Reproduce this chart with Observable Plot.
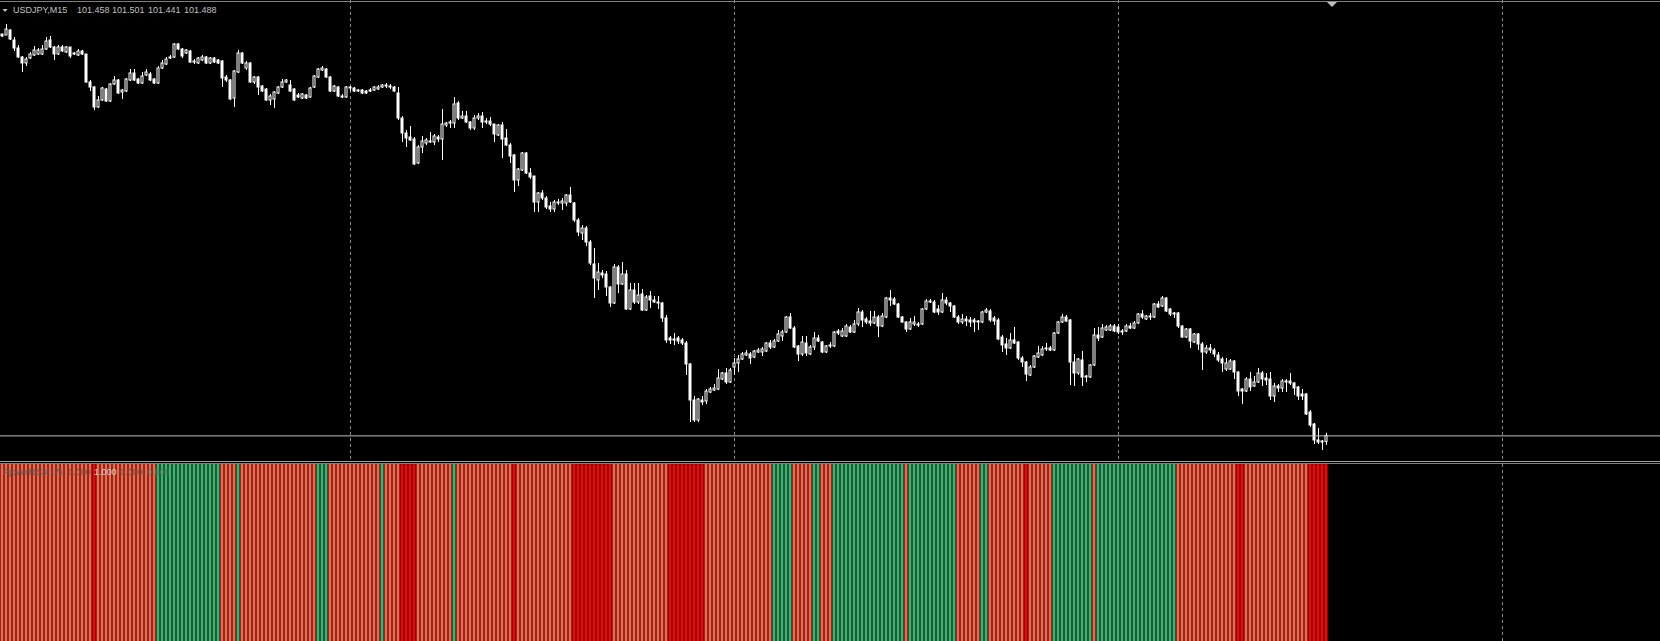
<!DOCTYPE html>
<html><head><meta charset="utf-8">
<script src="https://cdn.jsdelivr.net/npm/d3@7"></script>
<script src="https://cdn.jsdelivr.net/npm/@observablehq/plot@0.6"></script>
<style>
html,body{margin:0;padding:0;background:#000;}
#chart{position:relative;width:1660px;height:641px;background:#000;overflow:hidden;}
#chart svg{position:absolute;left:0;display:block;max-width:none;}
</style></head><body><div id="chart"></div>
<script>
// ---- data (USDJPY M15, one entry per bar, oldest first) ----
const symbol = "USDJPY,M15";
const headerValues = ["101.458", "101.501", "101.441", "101.488"];
const open = [
103.495,103.490,103.515,103.465,103.425,103.380,103.350,103.375,103.390,103.395,
103.395,103.420,103.465,103.430,103.395,103.430,103.405,103.430,103.395,103.390,
103.410,103.395,103.255,103.230,103.130,103.165,103.220,103.160,103.245,103.265,
103.205,103.210,103.265,103.300,103.270,103.250,103.290,103.295,103.270,103.250,
103.325,103.345,103.375,103.380,103.445,103.420,103.400,103.410,103.360,103.350,
103.365,103.380,103.350,103.375,103.365,103.360,103.280,103.265,103.175,103.305,
103.400,103.325,103.350,103.255,103.280,103.235,103.220,103.165,103.170,103.200,
103.230,103.255,103.240,103.220,103.190,103.175,103.190,103.180,103.230,103.280,
103.315,103.320,103.280,103.210,103.230,103.185,103.180,103.230,103.225,103.215,
103.215,103.210,103.210,103.215,103.220,103.230,103.240,103.235,103.230,103.200,
103.075,103.000,102.980,102.970,102.850,102.930,102.950,102.955,102.955,102.980,
102.970,103.040,103.050,103.050,103.150,103.075,103.085,103.055,103.025,103.075,
103.085,103.055,103.060,103.045,102.990,103.040,102.975,102.940,102.890,102.765,
102.815,102.900,102.800,102.785,102.655,102.700,102.675,102.635,102.620,102.655,
102.650,102.650,102.690,102.650,102.565,102.500,102.525,102.455,102.345,102.265,
102.300,102.295,102.230,102.150,102.330,102.245,102.295,102.120,102.215,102.155,
102.195,102.115,102.185,102.165,102.155,102.150,102.075,101.975,101.970,101.975,
101.965,101.950,101.845,101.665,101.565,101.665,101.660,101.705,101.715,101.720,
101.770,101.800,101.755,101.830,101.850,101.870,101.890,101.895,101.880,101.905,
101.905,101.910,101.950,101.930,101.960,101.985,102.005,102.080,102.025,101.935,
101.895,101.950,101.895,101.930,101.975,101.955,101.905,101.940,101.935,102.010,
101.985,101.985,102.030,102.005,102.045,102.105,102.070,102.060,102.050,102.080,
102.035,102.080,102.175,102.170,102.145,102.080,102.055,102.020,102.045,102.045,
102.045,102.120,102.160,102.155,102.120,102.105,102.165,102.150,102.135,102.080,
102.055,102.070,102.065,102.065,102.060,102.055,102.105,102.110,102.075,102.065,
101.980,101.945,101.925,101.965,101.955,101.875,101.855,101.790,101.830,101.880,
101.890,101.920,101.925,101.915,102.000,102.055,102.080,102.065,101.855,101.800,
101.865,101.785,101.780,101.840,101.990,101.980,102.015,102.015,102.035,102.030,
102.010,102.010,102.035,102.025,102.050,102.095,102.070,102.080,102.080,102.145,
102.135,102.175,102.120,102.100,102.100,102.035,101.980,102.020,101.955,101.995,
101.945,101.905,101.925,101.915,101.890,101.870,101.820,101.820,101.860,101.805,
101.720,101.710,101.770,101.735,101.755,101.800,101.775,101.770,101.685,101.735,
101.725,101.755,101.760,101.750,101.730,101.695,101.695,101.605,101.545,101.465,
101.460,101.458];
const high = [
103.495,103.545,103.520,103.480,103.440,103.385,103.380,103.405,103.435,103.425,
103.440,103.480,103.485,103.435,103.440,103.440,103.435,103.430,103.405,103.420,
103.415,103.395,103.265,103.235,103.185,103.230,103.225,103.250,103.285,103.270,
103.220,103.275,103.320,103.320,103.275,103.305,103.320,103.305,103.275,103.335,
103.365,103.380,103.390,103.450,103.450,103.425,103.420,103.415,103.370,103.380,
103.390,103.385,103.380,103.380,103.370,103.365,103.290,103.270,103.315,103.415,
103.405,103.360,103.355,103.285,103.285,103.240,103.225,103.195,103.210,103.235,
103.270,103.270,103.265,103.225,103.200,103.200,103.195,103.230,103.290,103.325,
103.335,103.325,103.285,103.240,103.235,103.195,103.235,103.235,103.230,103.220,
103.220,103.215,103.225,103.235,103.240,103.245,103.250,103.245,103.235,103.230,
103.085,103.015,103.035,102.980,102.940,102.985,102.975,103.005,102.995,102.990,
103.120,103.055,103.065,103.180,103.160,103.110,103.110,103.060,103.090,103.100,
103.105,103.075,103.080,103.045,103.045,103.055,103.020,102.950,102.895,102.825,
102.905,102.905,102.825,102.785,102.705,102.715,102.685,102.655,102.665,102.670,
102.675,102.695,102.730,102.655,102.575,102.540,102.535,102.465,102.425,102.350,
102.315,102.310,102.235,102.345,102.340,102.355,102.315,102.250,102.250,102.250,
102.220,102.190,102.210,102.185,102.185,102.155,102.090,101.985,102.000,101.985,
101.975,101.960,101.850,101.685,101.675,101.685,101.720,101.730,101.745,101.820,
101.805,101.825,101.825,101.875,101.890,101.905,101.915,101.905,101.915,101.925,
101.930,101.955,101.965,101.970,102.015,102.015,102.085,102.100,102.035,101.940,
101.985,101.985,101.940,102.005,101.990,101.960,101.940,101.955,102.010,102.020,
102.025,102.045,102.040,102.065,102.125,102.115,102.080,102.110,102.110,102.090,
102.100,102.180,102.215,102.180,102.150,102.085,102.060,102.075,102.085,102.055,
102.125,102.170,102.170,102.165,102.140,102.200,102.180,102.155,102.140,102.090,
102.095,102.085,102.080,102.075,102.065,102.110,102.125,102.120,102.085,102.075,
101.990,101.975,102.000,102.030,101.960,101.885,101.860,101.840,101.890,101.935,
101.935,101.950,101.935,102.005,102.060,102.095,102.090,102.070,101.895,101.875,
101.910,101.790,101.845,102.025,102.030,102.045,102.040,102.045,102.045,102.045,
102.020,102.045,102.050,102.060,102.100,102.115,102.090,102.100,102.150,102.160,
102.185,102.180,102.125,102.105,102.105,102.040,102.025,102.025,102.000,102.000,
101.955,101.940,101.945,101.925,101.905,101.880,101.875,101.870,101.865,101.810,
101.725,101.780,101.805,101.785,101.825,101.810,101.800,101.805,101.750,101.745,
101.770,101.770,101.800,101.755,101.735,101.720,101.700,101.615,101.550,101.525,
101.465,101.501];
const low = [
103.480,103.490,103.465,103.410,103.375,103.305,103.335,103.370,103.385,103.390,
103.390,103.415,103.425,103.365,103.390,103.405,103.400,103.375,103.390,103.385,
103.390,103.250,103.210,103.115,103.125,103.160,103.155,103.155,103.240,103.195,
103.170,103.205,103.260,103.260,103.245,103.245,103.285,103.260,103.245,103.245,
103.320,103.340,103.370,103.375,103.415,103.375,103.395,103.350,103.345,103.345,
103.360,103.345,103.345,103.350,103.345,103.230,103.255,103.165,103.130,103.300,
103.345,103.315,103.250,103.245,103.190,103.205,103.160,103.140,103.125,103.195,
103.225,103.250,103.205,103.160,103.175,103.170,103.170,103.175,103.225,103.275,
103.310,103.275,103.205,103.205,103.180,103.175,103.175,103.210,103.205,103.205,
103.195,103.195,103.205,103.210,103.215,103.225,103.225,103.220,103.205,103.065,
102.955,102.930,102.960,102.840,102.845,102.900,102.940,102.950,102.940,102.955,
102.865,103.030,103.025,103.025,103.065,103.070,103.050,103.015,103.015,103.065,
103.025,103.045,103.035,102.955,102.985,102.875,102.935,102.850,102.705,102.735,
102.810,102.795,102.770,102.605,102.605,102.665,102.620,102.605,102.605,102.640,
102.615,102.635,102.650,102.555,102.485,102.465,102.435,102.340,102.175,102.215,
102.275,102.185,102.130,102.145,102.200,102.240,102.115,102.115,102.145,102.145,
102.110,102.110,102.125,102.150,102.120,102.055,101.950,101.945,101.940,101.945,
101.940,101.790,101.555,101.555,101.555,101.640,101.645,101.700,101.710,101.715,
101.765,101.745,101.750,101.790,101.805,101.865,101.885,101.845,101.875,101.900,
101.885,101.905,101.920,101.925,101.955,101.960,102.000,102.020,101.925,101.860,
101.885,101.885,101.890,101.915,101.955,101.900,101.900,101.925,101.930,101.990,
101.980,101.980,102.000,102.000,102.035,102.030,102.045,102.035,102.045,101.980,
102.030,102.075,102.135,102.140,102.075,102.050,102.005,102.015,102.035,102.030,
102.040,102.115,102.150,102.100,102.090,102.100,102.140,102.105,102.075,102.045,
102.045,102.035,102.030,102.005,102.015,102.050,102.100,102.055,102.040,101.965,
101.905,101.890,101.920,101.945,101.865,101.830,101.760,101.785,101.825,101.875,
101.885,101.910,101.910,101.910,101.995,102.050,102.055,101.740,101.735,101.790,
101.735,101.755,101.775,101.835,101.960,101.975,102.010,102.010,102.005,101.995,
101.990,102.005,102.020,102.020,102.045,102.070,102.065,102.065,102.075,102.125,
102.130,102.105,102.085,102.075,102.025,101.975,101.975,101.925,101.950,101.915,
101.815,101.895,101.900,101.880,101.855,101.805,101.810,101.815,101.770,101.685,
101.645,101.705,101.710,101.730,101.750,101.735,101.740,101.665,101.655,101.705,
101.705,101.705,101.740,101.690,101.665,101.665,101.590,101.530,101.445,101.445,
101.415,101.441];
const close = [
103.485,103.520,103.470,103.425,103.380,103.350,103.370,103.395,103.415,103.415,
103.420,103.460,103.430,103.395,103.430,103.410,103.430,103.385,103.400,103.410,
103.395,103.255,103.230,103.130,103.165,103.225,103.160,103.245,103.265,103.200,
103.215,103.270,103.300,103.265,103.250,103.285,103.305,103.265,103.250,103.325,
103.350,103.370,103.380,103.445,103.420,103.385,103.415,103.355,103.355,103.375,
103.380,103.350,103.375,103.355,103.350,103.275,103.265,103.170,103.310,103.400,
103.350,103.350,103.255,103.280,103.230,103.210,103.165,103.185,103.205,103.230,
103.255,103.265,103.210,103.165,103.180,103.195,103.175,103.225,103.285,103.320,
103.325,103.280,103.210,103.235,103.185,103.180,103.230,103.225,103.210,103.210,
103.200,103.200,103.215,103.230,103.230,103.240,103.235,103.230,103.210,103.075,
103.000,102.975,102.965,102.845,102.930,102.960,102.965,102.960,102.985,102.970,
103.045,103.050,103.055,103.145,103.075,103.085,103.055,103.025,103.075,103.085,
103.055,103.060,103.045,102.995,103.040,102.970,102.940,102.885,102.765,102.820,
102.900,102.800,102.780,102.655,102.700,102.675,102.630,102.620,102.655,102.650,
102.660,102.690,102.655,102.565,102.505,102.525,102.455,102.350,102.275,102.305,
102.290,102.230,102.150,102.330,102.245,102.295,102.120,102.215,102.155,102.190,
102.115,102.180,102.165,102.155,102.150,102.075,101.965,101.965,101.965,101.960,
101.950,101.845,101.665,101.565,101.670,101.655,101.710,101.720,101.725,101.775,
101.800,101.755,101.815,101.850,101.870,101.895,101.900,101.875,101.910,101.915,
101.920,101.950,101.930,101.960,101.995,102.005,102.080,102.025,101.930,101.895,
101.955,101.900,101.930,101.975,101.960,101.905,101.935,101.935,102.005,102.000,
102.010,102.035,102.005,102.045,102.105,102.065,102.055,102.050,102.080,102.035,
102.085,102.175,102.165,102.145,102.080,102.055,102.020,102.055,102.055,102.040,
102.120,102.160,102.155,102.105,102.105,102.165,102.150,102.135,102.080,102.055,
102.070,102.060,102.055,102.055,102.055,102.105,102.115,102.065,102.060,101.970,
101.940,101.925,101.965,101.950,101.875,101.855,101.795,101.830,101.885,101.900,
101.920,101.925,101.915,102.000,102.055,102.080,102.060,101.855,101.800,101.870,
101.780,101.780,101.840,101.990,101.975,102.025,102.030,102.035,102.010,102.005,
102.005,102.035,102.025,102.050,102.095,102.080,102.085,102.085,102.145,102.130,
102.175,102.110,102.095,102.095,102.035,101.980,102.020,101.960,101.995,101.945,
101.905,101.925,101.915,101.895,101.865,101.850,101.850,101.860,101.805,101.710,
101.710,101.770,101.730,101.755,101.800,101.770,101.765,101.685,101.735,101.725,
101.760,101.760,101.750,101.725,101.685,101.685,101.595,101.540,101.465,101.455,
101.455,101.488];
// day separators (bar index of first bar of each day)
const dayBreaks = [87, 183, 279, 375];
// indicator histogram: runs of consecutive bars with the same state
const runState  = ["T","R","T","G","T","G","T","G","T","G","T","R","T","G","T","R","T","R","T","R","T","G","T","G","T","G","T","G","T","G","T","R","T","G","T","G","T","R","T","R"];
const runLength = [23,1,15,16,4,1,19,3,13,1,4,4,9,1,14,1,14,10,14,9,17,5,5,2,3,18,1,12,6,2,9,1,6,10,1,20,15,2,16,5];
const stateColor = {T: "#FF6347", R: "#FF0000", G: "#3CB371"};
const indicatorName = "PjoverRE3(17)";
const indicatorValues = ["0.000", "1.000", "0.000", "0.000"];

// ---- build ----
const bars = close.map((c, i) => ({i, o: open[i], h: high[i], l: low[i], c}));
const upBars = bars.filter(d => d.c > d.o);
const downBars = bars.filter(d => d.c <= d.o);
const sig = [];
runState.forEach((s, k) => { for (let j = 0; j < runLength[k]; j++) sig.push({i: sig.length, s}); });

const xDomain = [-0.5, 414.5];
const grid = (extra) => Plot.ruleX(dayBreaks, {x: d => d, stroke: "#8a8a8a", strokeDasharray: "3,3", ...extra});
const bodyY2 = d => d.c === d.o ? d.o + 0.001 : d.c;

const main = Plot.plot({
  width: 1660, height: 461, margin: 0,
  x: {domain: xDomain, axis: null},
  y: {domain: [101.36, 103.665], axis: null},
  style: {background: "#000"},
  marks: [
    grid(),
    Plot.ruleX(bars, {x: "i", y1: "l", y2: "h", stroke: "#ffffff"}),
    Plot.rect(upBars, {x1: d => d.i - 0.25, x2: d => d.i + 0.25, y1: "o", y2: bodyY2, fill: "#000", stroke: "#ffffff"}),
    Plot.rect(downBars, {x1: d => d.i - 0.25, x2: d => d.i + 0.25, y1: "o", y2: bodyY2, fill: "#ffffff", stroke: "#ffffff"}),
    Plot.ruleY([close[close.length - 1]], {stroke: "#c0c0c0"})
  ]
});
main.style.top = "0px";

const ind = Plot.plot({
  width: 1660, height: 177, margin: 0,
  x: {domain: xDomain, axis: null},
  y: {domain: [0, 1], axis: null},
  color: {type: "identity"},
  style: {background: "#000"},
  marks: [
    grid(),
    Plot.rect(sig, {x1: d => d.i - 0.375, x2: d => d.i + 0.375, y1: () => 0, y2: () => 1, fill: d => stateColor[d.s]})
  ]
});
ind.style.top = "464px";

const host = document.getElementById("chart");
host.appendChild(main);
host.appendChild(ind);

// ---- frame, labels ----
const ov = d3.select(host).append("svg").attr("width", 1660).attr("height", 641)
  .style("top", "0px").style("pointer-events", "none");
ov.append("rect").attr("x", 0).attr("y", 1).attr("width", 1660).attr("height", 1).attr("fill", "#808080");
ov.append("rect").attr("x", 0).attr("y", 461).attr("width", 1660).attr("height", 1).attr("fill", "#a0a0a0");
ov.append("rect").attr("x", 0).attr("y", 463).attr("width", 1660).attr("height", 1).attr("fill", "#808080");
ov.append("polygon").attr("points", "2.5,9 7.5,9 5,12").attr("fill", "#c0c0c0");
ov.append("polygon").attr("points", "1327,2 1337,2 1332,7").attr("fill", "#c0c0c0");

const hdr = ov.append("g").attr("font-family", "'Liberation Sans', Arial, sans-serif").attr("font-size", 9).attr("fill", "#c0c0c0");
hdr.append("text").attr("x", 13).attr("y", 12.5).text(symbol);
const hx = [77, 112, 148, 184];
headerValues.forEach((v, k) => hdr.append("text").attr("x", hx[k]).attr("y", 12.5).text(v));

const lab = ov.append("g").attr("font-family", "'Liberation Sans', Arial, sans-serif").attr("font-size", 9);
lab.append("text").attr("x", 3).attr("y", 475).attr("fill", "#585858").text(indicatorName);
const ix = [68, 94, 120, 147];
const icol = ["#7a4a3c", "#d0d0d0", "#7a4a3c", "#3f7a5c"];
indicatorValues.forEach((v, k) => lab.append("text").attr("x", ix[k]).attr("y", 475).attr("fill", icol[k]).text(v));
</script>
</body></html>
